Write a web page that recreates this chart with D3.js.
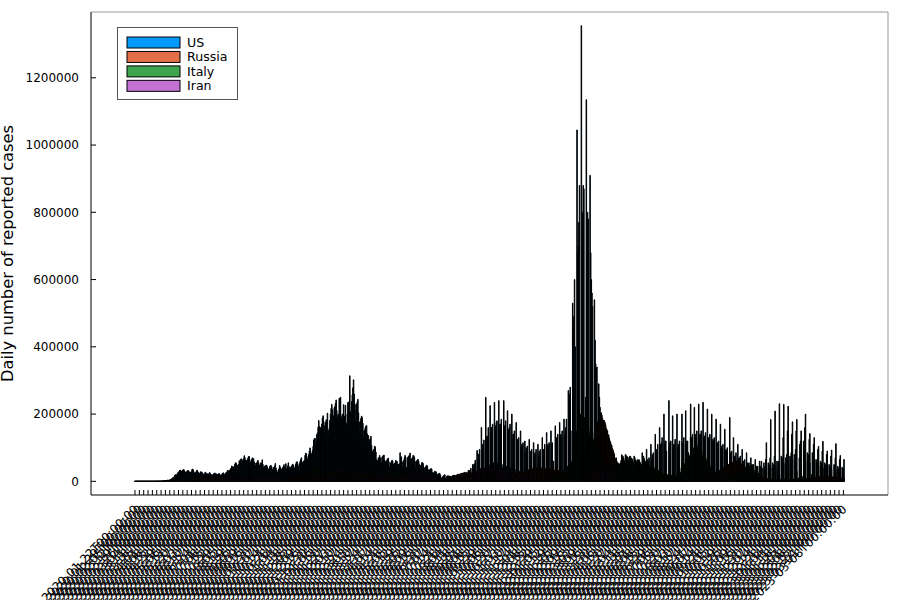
<!DOCTYPE html>
<html><head><meta charset="utf-8">
<script src="https://cdn.jsdelivr.net/npm/d3@7"></script>
<style>body{margin:0;background:#fff}svg{display:block}</style>
</head><body>
<svg id="chart" width="900" height="600"></svg>
<script>
const startDate = "2020-01-22";
const endDate = "2023-03-09";
const seriesNames = ["US", "Russia", "Italy", "Iran"];
const seriesColors = ["#009AFA", "#E36F47", "#3EA44E", "#C371D2"];
const yTickValues = [0, 200000, 400000, 600000, 800000, 1000000, 1200000];
const yLabel = "Daily number of reported cases";
const tickEvery = 7;

// daily new cases, in thousands, one row per week (Wed..Tue), from 2020-01-22
const usK = [
0,0,0,0,0,0,0, 0,0,0,0,0,0,0, 0,0,0,0,0,0,0, 0,0,0,0,0,0,0, 0,0,0,0,0,0,0,
0,0,0,0.02,0.01,0.03,0.03,
0.04,0.07,0.06,0.1,0.1,0.2,0.3,
0.4,0.5,0.6,0.7,0.8,1.3,1.8,
2.7,4.5,5.6,7,8.9,10.5,10.3,
13.4,17.2,19.3,19.8,19.1,20.9,25.2,
// W10
26.4,29.3,32.2,33.3,26.7,29.8,31.6,
32.9,35.2,33.8,30.1,27.4,25.6,28.1,
30.5,32.1,31.9,29.2,27.6,26.1,26.5,
29.1,35.7,36.6,33.4,27.1,23.4,24.2,
27.3,30.1,33.4,29.5,26.8,22.3,24.1,
25.2,28.4,28.1,26.3,20.4,19.1,22.4,
21.4,27.1,25.2,24.3,19.1,22.5,21.1,
22.3,26.2,24.4,21.5,20.1,18.3,19.2,
19.4,22.4,24.2,24.5,19.1,22.3,20.4,
20.1,21.4,22.6,23.1,17.5,18.5,18.9,
// W20
21.2,22.8,25.4,24.1,18.6,19.8,24.3,
26.1,27.7,32.4,32.1,28.3,29.5,33.6,
37.4,39.8,45.6,42.3,43.1,40.2,44.8,
51.3,55.4,54.2,45.6,48.3,43.5,50.1,
61.3,59.4,64.2,67.1,58.5,60.3,64.5,
67.4,76.3,71.2,62.6,63.4,58.9,62.4,
69.3,73.5,74.2,63.1,55.4,57.2,65.3,
69.8,67.5,67.3,57.4,48.2,46.4,54.5,
54.3,58.6,62.4,55.1,46.3,47.5,53.2,
55.4,51.3,64.1,50.5,41.2,35.4,44.3,
// W30
47.5,45.1,48.2,43.4,35.6,35.1,38.4,
44.1,46.2,47.5,43.6,35.3,35.2,41.4,
41.3,45.6,53.2,40.1,33.4,27.2,26.4,
34.2,37.5,47.3,42.1,34.5,35.2,38.6,
40.2,44.3,49.6,42.3,35.1,52.4,38.5,
39.4,45.6,55.2,44.1,35.3,40.2,41.5,
44.3,47.6,51.2,48.4,35.6,38.2,44.6,
51.4,57.2,58.5,53.1,45.3,42.4,52.3,
59.1,64.5,70.2,57.4,48.3,58.2,60.4,
62.5,77.3,83.6,82.1,60.4,66.5,74.3,
// W40
80.2,90.5,99.4,85.6,78.3,82.5,91.6,
104,123,127,128,104,120,139,
144,161,181,163,138,160,161,
170,188,195,178,143,166,175,
183,112,203,152,135,158,181,
200,217,229,213,176,195,219,
222,232,242,211,187,197,200,
247,238,250,192,186,200,199,
228,194,97,226,152,173,200,
234,236,157,314,207,185,237,
// W50
257,278,302,260,213,176,229,
230,236,244,204,176,143,179,
187,194,189,173,136,150,153,
160,164,166,141,112,136,113,
124,125,134,107,90,88,94,
95,105,102,87,64,55,62,
70,69,77,70,56,56,72,
75,77,78,63,50,59,59,
64,67,69,58,41,45,55,
59,63,60,51,36,54,54,
// W60
62,60,59,50,35,51,52,
85,69,73,59,40,57,62,
70,77,70,41,37,72,64,
75,78,84,65,46,68,70,
77,76,72,59,41,58,61,
64,65,59,50,31,47,48,
55,56,53,42,27,40,43,
46,48,45,35,22,33,35,
37,38,36,27,18,25,27,
30,29,28,20,14,22,22,
// W70
24,23,19,11,8,9,14,
17,16,20,8,6,15,13,
17,15,16,6,5,12,11,
13,12,14,5,4,12,11,
14,13,16,5,4,14,12,
18,16,15,6,5,6,27,
25,24,27,8,6,33,22,
32,32,39,11,9,50,36,
50,52,63,15,12,92,61,
81,76,95,25,17,160,85,
// W80
110,106,123,40,30,250,130,
135,130,160,50,38,225,140,
160,160,170,55,40,235,150,
165,175,180,55,45,240,165,
170,170,185,50,40,35,240,
165,165,180,45,35,210,145,
155,160,170,40,30,200,125,
140,140,150,35,25,175,115,
125,120,130,30,22,150,100,
110,105,115,25,20,120,85,
// W90
100,95,105,22,18,125,80,
90,85,95,20,16,115,75,
85,80,95,20,15,110,75,
90,85,95,20,15,130,80,
95,95,110,22,18,145,90,
110,105,115,25,20,150,110,
115,25,60,20,15,165,120,
130,125,140,30,25,175,135,
140,130,150,35,28,185,135,
155,160,185,45,35,270,190,
// W100
260,280,150,50,60,530,450,
490,600,400,100,150,1045,680,
700,770,880,200,150,1355,760,
800,880,870,190,130,250,1135,
750,800,780,150,110,910,680,
600,560,520,100,70,540,420,
350,330,340,60,50,290,250,
220,200,190,35,30,170,150,
130,120,110,25,20,45,130,
90,80,80,15,12,90,65,
// W110
60,55,55,10,8,70,45,
45,40,45,8,6,55,35,
35,35,40,6,5,50,30,
35,35,38,6,5,45,30,
35,32,38,6,5,55,30,
35,35,45,6,5,65,35,
45,40,50,8,6,85,40,
55,50,60,10,8,95,55,
65,60,70,12,10,110,65,
80,75,85,14,12,140,80,
// W120
95,90,110,15,12,160,100,
110,115,130,18,15,200,110,
120,120,90,20,15,20,240,
110,115,120,18,14,195,100,
110,110,125,16,14,200,100,
110,105,120,15,12,40,200,
115,110,130,15,12,210,110,
120,120,70,15,12,20,230,
130,125,140,18,14,220,120,
140,130,150,20,15,230,130,
// W130
140,140,150,20,15,235,130,
135,130,145,18,14,215,120,
130,125,140,16,13,200,115,
125,120,130,15,12,185,110,
115,110,120,14,11,170,100,
105,100,110,12,10,155,90,
95,90,100,10,8,15,190,
85,80,90,9,7,130,75,
75,70,85,8,6,110,65,
70,65,75,7,6,95,60,
// W140
60,55,65,6,5,85,50,
55,50,55,5,4,70,45,
50,45,50,4,4,65,40,
45,40,45,4,3,60,38,
45,60,40,4,3,55,35,
45,65,40,4,3,55,35,
48,70,40,4,3,55,38,
50,75,45,4,3,60,42,
60,10,20,3,3,75,55,
70,130,55,5,4,70,60,
// W150
80,150,60,5,4,75,65,
85,140,65,5,4,80,70,
95,150,30,4,3,10,70,
110,120,20,4,3,15,120,
90,160,60,5,4,85,75,
80,125,55,5,4,20,85,
70,110,50,4,3,65,55,
60,95,45,4,3,60,50,
55,90,40,3,3,55,45,
50,80,38,3,3,50,42,
// W160
45,75,35,3,3,15,50,
45,70,32,3,3,45,38,
40,65,30,3,3,42,35,
38,65
];

const russiaK = [
0,0,0,0,0,0,0, 0,0,0,0,0,0,0, 0,0,0,0,0,0,0, 0,0,0,0,0,0,0, 0,0,0,0,0,0,0,
0,0,0,0,0,0,0, 0,0,0,0,0,0,0,
0.01,0.02,0.02,0.01,0.03,0.03,0.02,
0.03,0.05,0.05,0.05,0.06,0.07,0.07,
0.16,0.18,0.2,0.23,0.27,0.3,0.5,
// W10
0.44,0.77,0.6,0.58,0.66,0.95,1.15,
1.17,1.46,1.79,1.67,2.19,2.56,2.77,
3.39,3.45,4.07,4.79,6.06,4.27,5.64,
5.24,4.77,5.85,5.97,6.36,6.2,6.41,
5.84,7.1,7.93,9.62,10.63,10.58,10.1,
10.56,11.23,10.7,10.82,11.01,11.66,10.9,
10.03,9.97,10.6,9.2,9.71,8.93,9.26,
8.76,8.86,8.89,9.43,8.6,8.95,8.34,
8.37,8.37,8.57,8.95,9.27,9.04,8.53,
8.53,8.83,8.73,8.86,8.98,8.6,8.4,
// W20
8.78,8.99,8.71,8.83,8.25,8.25,8,
7.79,7.97,7.89,7.6,7.73,7.42,7.1,
7.11,6.82,6.8,6.85,6.79,6.72,6.69,
6.56,6.76,6.74,6.63,6.61,6.61,6.56,
6.51,6.63,6.61,6.61,6.54,6.54,6.42,
6.41,6.39,6.23,6.17,5.94,5.94,5.84,
5.86,5.81,5.87,5.76,5.63,5.63,5.39,
5.48,5.5,5.48,5.46,5.43,5.4,5.16,
5.2,5.24,5.21,5.19,5.12,5.1,5.1,
5.06,5.06,5.06,4.92,4.89,4.84,4.83,
// W30
4.77,4.79,4.8,4.87,4.85,4.75,4.73,
4.76,4.71,4.73,4.71,4.73,4.68,4.73,
4.95,5.01,5.11,5.21,5.2,5.1,5.1,
5.36,5.4,5.45,5.51,5.49,5.51,5.53,
5.67,5.9,6.07,6.15,6.2,6.1,6.2,
6.43,6.6,7.21,7.52,7.87,8.13,8.23,
8.48,8.74,9.41,10.5,10.89,10.9,11.12,
11.1,11.49,12.13,12.85,13.63,13.87,13.87,
14.23,14.91,15.15,15.7,15.98,15.98,16.32,
16.52,17.34,17.72,17.4,16.71,15.98,16.55,
// W40
17.72,18.28,18.14,18.26,18.67,18.66,19.77,
19.76,20.58,20.98,21.8,20.77,20.98,21.6,
21.99,21.52,22.7,22.82,22.57,22.78,23.61,
24.58,24.32,24.82,24.58,24.58,25.17,26.42,
26.49,27.1,27.92,27.58,27.95,27.06,27.1,
27.17,28.59,28.96,28.64,28.09,27.92,26.1,
27.13,27,28.54,28.57,28.34,28.14,27.08,
26.92,28.14,28.55,27.57,28.12,28.34,28.6,
29.26,28.27,28.36,27.9,27.61,27.23,26.51,
27.71,26.76,25.8,24.25,24.2,23.06,23.47,
// W50
23.99,23.51,24.77,24.24,24.13,23.09,22.32,
22.31,22.07,21.91,21.91,21.37,21.34,20.14,
19.99,20.31,21.12,20.95,19.04,19.34,17.74,
17.99,17.59,19.26,19.01,18.09,17.4,16.78,
16.26,16.16,16.37,16.03,15.83,16.09,15.36,
15.58,15.09,15.3,14.26,14.12,14.57,13.74,
13.06,13.2,13.05,12.71,12.49,11.91,11.2,
11.44,11.2,11.4,11.52,11.43,11.02,10.77,
10.58,10.43,10.6,10.38,10.49,10.44,9.88,
9.97,9.44,9.44,9.44,9.63,9.27,9.2,
// W60
9.25,9.37,9.24,8.95,9.15,9.06,8.4,
8.65,8.65,8.85,8.63,8.7,8.34,8.16,
8.78,8.59,8.64,8.98,8.78,8.71,8.32,
8.33,8.75,8.7,8.73,8.8,8.67,8.17,
8.27,8.63,8.36,8.89,8.68,8.85,8.05,
8.37,8.99,9.27,9.21,8.7,8.42,8.05,
8.38,8.32,8.33,8.29,8.23,8.12,7.87,
8.06,8.42,8.42,8.79,8.74,8.33,7.9,
8.22,8.47,8.28,8.55,8.86,8.84,8.29,
8.45,8.63,8.68,8.95,9.06,8.95,8.37,
// W70
8.78,8.95,9.2,9.3,9.29,9.04,8.95,
9.15,9.3,9.26,9.15,9.35,9.3,10.4,
10.4,11.7,12.5,13.5,14.7,14.7,13.4,
14,17.3,17.9,17.6,17.9,17.4,16.7,
18.1,20.2,20.6,21,21.7,20.5,20.6,
23.5,23.2,24.4,24,25.1,24.4,23.3,
23.6,23.2,25.7,25.1,24.7,24.6,24.7,
25.3,25.3,25.3,25.2,24.9,24.5,23.8,
23.7,24.1,23.8,24.1,23.3,23.8,22.6,
22.6,23.2,23.4,22.4,22.9,22.2,22,
// W80
22,22.2,22.1,22.3,22,21.9,21.4,
21.6,21.9,21.9,22.2,21.6,21.6,21.1,
20.6,21.1,21,20.8,20.9,20.2,19.5,
19.5,19.7,19.4,19.5,19.2,18.8,18.3,
18.2,18.4,18.9,18.6,18.4,17.8,17.5,
17.8,18,18.3,18.4,18.6,17.9,18,
18.9,19.6,19.9,20.2,20.6,20.2,19.7,
20.9,21.4,22,22.4,22.2,21.9,21.8,
23.5,24.4,24.9,25,25.6,25.6,25.1,
26.6,27.4,28,28.6,28.6,29.2,28.4,
// W90
31.3,32.2,32.2,33.2,34,34.3,33.7,
34.1,36.3,37.1,37.7,37.9,38,36.6,
37.5,40.1,40,39.8,39.4,40,39.2,
40.4,40.2,41.3,39.4,39.2,38.8,38,
38,39,38.8,38.1,38,37.9,37,
37.1,37.4,37.2,36.9,36.8,36,35.7,
33.6,33.8,33.5,32.9,32.9,32.8,32.2,
33.2,32.9,32.3,31.7,31.4,31.3,30.4,
30,29.4,29,28.5,28.2,27.9,27.1,
28.3,27.7,27.4,26.4,26.4,25.9,24.8,
// W100
24.1,23.8,22.6,22.4,21.9,21.6,20.5,
21,20.8,20,19.6,18.6,17.5,16.5,
16.9,17.2,17.5,18.8,19.5,19.6,20.7,
23.8,25.1,27.9,30.5,32.5,36.5,38.7,
43.4,48.6,52,57.2,63.2,67.8,74.6,
88.1,87.1,92.7,107.1,113.1,122.7,124.1,
140.1,155.8,168.2,177.3,166.6,168.2,165.6,
178.8,197.1,203.9,197.1,187.9,180.5,180.5,
180.6,174.6,168.2,157.8,153.8,150,136.3,
138.5,128.3,120.3,116.2,108.9,106.2,97.3,
// W110
93,86.8,81.4,69.6,66.6,62.5,56.7,
53.9,51.1,49.8,46.4,44.8,43.2,41.5,
42.3,40.8,40.2,39.7,38.5,37.7,35.2,
34.8,33.1,31.7,31.3,30.6,29.5,26.6,
26.6,24.9,23.7,22.6,22.1,21.4,18.5,
18.4,17.6,16.4,16,15.6,14.9,12.5,
12.5,11.9,11.1,10.8,10.3,9.6,8.4,
8.5,8.5,8,7.8,7.8,7,6.1,
6.1,5.9,5.5,5.4,5.1,4.8,4.2,
4.3,4.1,4,3.8,3.6,3.5,3.2,
// W120
3.3,3.4,3.5,3.5,3.5,3.4,3.3,
3.4,3.4,3.5,3.4,3.2,3.1,3,
3.2,3.3,3.4,3.4,3.3,3.4,3.2,
3.2,3.3,3.3,3.3,3.2,3.1,3,
3.2,3.3,3.4,3.3,3.2,3.1,3,
3.3,3.4,3.5,3.5,3.4,3.3,3.2,
3.5,3.6,3.7,3.8,3.8,3.8,3.7,
3.9,4,4.1,4.3,4.3,4.3,4.1,
4.6,5,5.2,5.4,5.5,5.6,5.5,
6.5,7,7.3,7.8,8,8.1,8,
// W130
10,10.6,11.3,11.8,12.1,12.3,12.2,
14.3,15.4,16.4,16.6,17.4,17.2,17,
19.4,20.6,21.5,22,22.4,22.4,22.2,
24.5,25.5,26.3,27,27.3,27.6,27.3,
30,30.9,31.8,32.5,33.2,33.5,33.6,
37.1,38.5,39.5,40.6,41.5,42.2,42,
46.6,48.2,49.1,49.8,50.4,50.6,50.3,
54.2,55,55.5,55.9,56,55.8,55.2,
59,59.5,59.2,58.7,58.1,57.1,55.5,
57.2,56.4,55.1,53.5,52,50.4,48.6,
// W140
48.1,46.2,44.2,42.4,40.6,38.9,36.8,
36,34.1,32.3,30.6,28.8,27.5,25.8,
25.4,24,22.7,21.5,20.3,19.2,17.9,
17.6,16.7,15.8,15,14.2,13.6,12.6,
12.5,12,11.4,10.9,10.4,10.1,9.4,
9.4,9,8.7,8.4,8.1,7.9,7.4,
7.4,7.2,7,6.8,6.6,6.5,6.2,
6.3,6.2,6.2,6.1,6,5.9,5.7,
5.8,5.8,5.8,5.7,5.7,5.6,5.4,
5.6,5.6,5.6,5.6,5.6,5.5,5.4,
// W150
5.6,5.7,5.7,5.7,5.7,5.6,5.5,
5.8,5.9,5.9,5.9,6,6,5.9,
6.3,6.4,6.5,6.5,6.6,6.6,6.5,
7,7.1,7.1,6.7,6.6,6.8,7.2,
7.4,7.4,7.7,7.6,7.4,7.5,7.7,
8.5,8.8,9.2,9.4,9.5,9.6,9.9,
11,11.6,12.1,12.4,12.4,12.5,12.6,
13.2,13.6,14,14.2,14.4,14.6,14.8,
15.4,15.6,15.8,16,15.9,15.7,15.6,
15.4,15.2,14.9,14.7,14.4,14.2,13.9,
// W160
13.5,13.2,12.9,12.6,12.4,12.2,12,
11.5,11.3,11.1,10.9,10.8,10.6,10.4,
10.2,10.1,9.9,9.8,9.6,9.5,9.3,
9.2,9
];

const italyK = [
0,0,0,0,0,0,0, 0,0,0,0,0,0,0, 0,0,0,0,0,0,0, 0,0,0,0,0,0,0,
0,0,0.02,0.06,0.07,0.07,0.09,
0.08,0.08,0.24,0.24,0.57,0.34,0.47,
0.59,0.77,0.78,1.25,1.49,1.8,0.98,
2.3,2.65,2.55,3.5,3.6,3.2,3.5,
4.2,5.3,5.99,6.56,5.56,4.79,5.25,
5.21,6.2,5.91,5.97,5.22,4.05,4.05,
// W10
4.78,4.67,4.59,4.81,4.32,3.6,3.04,
3.84,4.2,3.95,4.69,4.09,3.15,2.97,
2.67,3.79,3.49,3.49,3.05,2.26,2.73,
3.37,2.65,3.02,2.36,2.32,1.74,1.74,
2.09,1.87,1.97,1.9,1.39,1.22,1.08,
1.44,1.4,1.33,1.08,0.8,0.74,1.4,
0.89,0.99,0.79,0.88,0.68,0.45,0.81,
0.67,0.64,0.65,0.67,0.53,0.3,0.4,
0.58,0.59,0.52,0.42,0.36,0.18,0.32,
0.32,0.52,0.52,0.27,0.2,0.28,0.28,
// W20
0.2,0.38,0.16,0.35,0.34,0.3,0.21,
0.33,0.25,0.25,0.26,0.22,0.22,0.19,
0.19,0.3,0.26,0.18,0.17,0.12,0.14,
0.19,0.2,0.22,0.24,0.19,0.21,0.19,
0.19,0.27,0.28,0.18,0.18,0.11,0.17,
0.16,0.23,0.23,0.25,0.22,0.13,0.19,
0.28,0.31,0.25,0.28,0.25,0.18,0.21,
0.29,0.39,0.38,0.3,0.24,0.16,0.19,
0.38,0.4,0.55,0.35,0.46,0.26,0.41,
0.48,0.52,0.57,0.63,0.48,0.4,0.63,
// W30
0.64,0.84,0.95,1.07,1.21,0.95,0.88,
1.37,1.41,1.46,1.44,1.36,1,1,
1.33,1.4,1.73,1.69,1.3,1.1,1.37,
1.43,1.6,1.6,1.5,1.45,1,1.23,
1.45,1.58,1.9,1.64,1.59,1.35,1.39,
1.64,1.79,1.91,1.87,1.77,1.47,1.65,
1.85,2.55,2.5,2.84,2.58,2.26,2.68,
3.68,4.46,5.37,5.72,5.46,4.62,5.9,
7.33,8.8,10.01,10.92,11.7,9.34,10.87,
15.2,16.1,19.1,19.64,21.27,17.01,21.99,
// W40
24.99,26.83,31.08,29.9,29.91,22.25,28.24,
30.55,34.5,37.8,39.81,32.61,25.27,35.1,
32.96,37.98,40.9,37.25,33.98,27.35,32.19,
34.28,36.18,37.24,34.77,28.34,22.93,23.23,
25.85,29,28.35,26.32,23.64,16.38,19.35,
20.71,24.1,24,21.05,18.89,13.72,14.84,
12.76,16.99,18.73,19.9,17.94,12.03,14.84,
17.57,18.24,17.99,19.9,15.1,10.87,13.32,
14.52,18.04,19.04,10.41,11.21,8.58,11.21,
16.2,23.48,22.21,11.83,14.25,10.8,15.38,
// W50
20.33,18.02,17.53,19.98,18.63,12.53,14.24,
15.77,17.25,16.15,16.3,12.55,8.82,10.5,
13.57,14.08,13.63,13.33,11.63,8.56,10.59,
15.2,14.37,13.57,12.71,11.25,9.66,10.63,
13.19,13.66,14.22,12.71,11.64,7.97,10.38,
12.96,15.15,13.91,13.53,11.07,7.35,10.39,
12.07,13.76,15.48,15.47,13.45,9.63,13.31,
16.42,20.5,18.92,19.89,17.46,13.11,17.08,
20.88,22.86,24.04,23.64,20.77,13.9,19.75,
22.41,25.67,26.82,26.06,21.27,15.27,20.4,
// W60
23.06,24.94,25.74,23.84,20.16,15.27,18.77,
21.27,22.01,23.84,21.93,19.61,12.92,16.05,
23.65,21.26,21.26,18.03,10.68,7.77,13.71,
13.71,17.22,18.94,17.57,15.94,9.79,13.44,
16.17,16.97,16.23,15.37,12.7,8.86,12.07,
13.85,14.32,13.81,13.15,10.4,9.15,10.4,
12.97,12.61,10.58,9.14,8.89,5.95,9.12,
10,11.8,10.55,9.18,8.29,5.08,6.95,
7.85,8.08,7.57,6.66,5.76,3.45,4.45,
5.5,5.2,5.22,4.72,4.16,2.49,3.22,
// W70
3.94,3.74,3.35,2.95,2.49,1.82,1.97,
1.9,2.56,2.44,2.2,1.93,1.27,1.9,
2.2,1.9,1.73,1.39,1.36,0.78,0.88,
1.4,1.2,1.2,1.2,0.88,0.5,0.83,
0.95,0.93,0.95,0.79,0.75,0.39,0.68,
0.88,0.79,0.93,0.81,0.81,0.48,0.91,
1.39,1.39,1.56,1.4,1.2,0.89,1.55,
2.15,2.45,2.9,3.13,2.45,1.55,2.52,
4.26,5.06,5.14,5.14,4.74,3.12,4.19,
6.17,5.7,6.5,6.6,5.3,4.2,4.8,
// W80
6.6,7.23,7.41,6.82,5.67,3.54,5.7,
6.97,7.41,6.3,5.4,4.5,3.2,4.7,
7.16,7.26,7.19,6.8,5.9,4.2,5.2,
7.5,7.8,7,6.4,5.6,4.3,5.5,
6.8,6.7,6.9,5.9,5,3.4,4.7,
5.6,5.2,5.1,4.7,4.4,2.8,3.4,
4.4,5.1,4.6,4,3.8,2.4,3.4,
3.9,3.8,3.8,3.6,3.2,1.8,2.6,
3.2,3.8,3.4,3,2.8,1.8,2.4,
3.2,3,2.9,2.7,2.5,1.6,2.3,
// W90
2.7,2.7,2.7,2.5,2.4,1.6,2.5,
3.7,3.8,3.9,3.5,3,2,2.8,
4.6,4.9,5,4.6,4.2,2.7,3.6,
5.9,6,6.1,5.8,5.2,4,5,
7.9,8.6,8.5,8,7.6,5.1,7,
10.6,10.6,11.5,11,9.7,6.4,9,
13.7,13.8,13.7,12.9,12.9,8.2,12,
16.8,17,16.6,17,15,9.5,12.7,
12.5,16.1,20.4,21,19.2,13.4,20.7,
23.1,26.1,28.6,27.9,24.3,16.2,30.8,
// W100
36.3,44.6,50.6,54.8,24.9,30.8,78.3,
98,126.9,144.2,141.3,61,68.1,170.8,
189.1,219.4,108.3,197.6,155.7,101.8,220.5,
196.2,184.6,186.3,180.4,149.5,83.4,228.2,
192.3,179.1,171.3,138.9,130,77.7,186.7,
167.2,155.7,143.9,124.6,110.4,57.7,101.8,
118.9,112.7,99.5,85.6,77,41.2,101.9,
75.9,68,59.4,53.2,49.2,30.6,58,
60.3,57,53.1,47.6,40.4,24.4,46.6,
48.2,46.2,41.2,38.4,34.1,20,36.4,
// W110
43.5,46.2,50,45,40,25,60.5,
55,53,54,51,48,30,62,
79,76,74,70,62,40,80,
77,75,73,71,63,41,75,
74,68,69,65,59,38,75,
71,64,62,58,54,32,62,
64,59,55,51,48,18,40,
75,68,61,58,30,24,60,
58,52,46,44,40,25,48,
54,48,42,40,34,21,43,
// W120
42,38,35,31,27,15,34,
30,28,26,23,20,12,24,
23,22,21,17,15,9,17,
16,16,15,14,13,5,10,
20,26,21,17,16,9,24,
30,31,29,27,24,14,55,
62,54,55,51,45,24,62,
83,86,86,80,75,50,132,
107,109,102,99,86,43,115,
124,110,108,100,87,44,99,
// W130
106,98,92,86,76,36,78,
80,74,70,64,57,25,55,
58,53,46,42,36,16,40,
40,36,31,28,24,8,24,
29,25,21,19,17,8,21,
24,21,19,17,15,7,18,
19,17,15,14,13,6,16,
17,16,15,14,13,6,20,
22,21,20,19,17,8,27,
29,28,27,25,23,11,36,
// W140
38,37,36,34,30,14,46,
48,46,44,40,35,17,48,
43,39,35,32,28,14,35,
33,29,26,24,21,11,27,
27,24,0,0,0,0,0,
0,0,115,0,0,0,0,
0,0,184,0,0,0,0,
0,0,209,0,0,0,0,
0,0,231,0,0,0,0,
0,0,229,0,0,0,0,
// W150
0,0,223,0,0,0,0,
0,0,177,0,0,0,0,
0,0,184,0,0,0,0,
0,0,150,0,0,0,0,
0,0,200,0,0,0,0,
0,0,142,0,0,0,0,
0,0,130,0,0,0,0,
0,0,104,0,0,0,0,
0,0,119,0,0,0,0,
0,0,90,0,0,0,0,
// W160
0,0,93,0,0,0,0,
0,0,112,0,0,0,0,
0,0,77,0,0,0,0,
0,0
];

const iranK = [
0,0,0,0,0,0,0, 0,0,0,0,0,0,0, 0,0,0,0,0,0,0, 0,0,0,0,0,0,0,
0.002,0.003,0.013,0.01,0.015,0.018,0.034,
0.044,0.106,0.143,0.205,0.385,0.523,0.835,
0.586,0.591,1.234,1.076,0.743,0.595,0.881,
0.958,1.075,1.289,1.365,1.209,1.053,1.178,
1.192,1.046,1.237,0.966,1.028,1.411,1.762,
2.206,2.389,2.926,3.076,2.901,3.186,3.11,
// W10
2.987,2.875,2.715,2.56,2.483,2.274,2.089,
1.997,1.634,1.972,1.837,1.657,1.617,1.574,
1.512,1.606,1.499,1.374,1.343,1.294,1.297,
1.194,1.03,1.168,1.134,1.153,0.991,1.112,
1.073,0.993,0.983,0.802,0.976,1.223,1.323,
1.68,1.529,1.556,1.529,1.383,1.481,1.683,
2.102,1.808,2.294,1.757,1.806,2.346,2.392,
2.111,2.311,2.102,2.112,1.869,1.787,2.08,
1.737,2.293,2.819,2.991,3.117,3.134,3.07,
3.574,3.406,2.886,2.596,2.364,2.095,2.011,
// W20
2.18,2.238,2.41,2.472,2.41,2.449,2.612,
2.563,2.595,2.615,2.322,2.368,2.445,2.531,
2.595,2.389,2.628,2.489,2.536,2.457,2.45,
2.549,2.652,2.56,2.388,2.566,2.637,2.262,
2.349,2.397,2.388,2.166,2.186,2.379,2.521,
2.625,2.5,2.379,2.166,2.41,2.414,2.316,
2.621,2.586,2.434,2.333,2.316,2.42,2.549,
2.636,2.489,2.685,2.382,2.485,2.598,2.697,
2.634,2.45,2.125,2.02,2.133,2.262,2.451,
2.502,2.394,2.3,2.385,1.851,1.916,2.206,
// W30
2.385,2.336,2.45,2.061,2.026,1.948,2.172,
2.098,2.089,2.092,2.059,1.989,2.151,2.059,
2.063,2.006,2.173,1.969,2.082,2.308,2.205,
2.323,2.395,2.395,2.233,2.223,2.317,2.564,
2.521,2.706,2.919,2.969,3.097,3.204,3.712,
3.521,3.563,3.582,3.362,3.204,3.521,3.574,
3.653,3.825,3.582,3.545,3.362,3.712,3.902,
4.019,4.142,4.392,4.151,3.822,3.875,4.206,
4.83,4.542,4.103,4,4.251,4.721,5.039,
5.616,5.96,6.134,5.814,5.96,6.191,6.968,
// W40
7.82,8.293,6.824,7.719,6.856,6.968,8.364,
9.236,8.689,9.01,9.45,10.463,10.343,11.737,
12.931,12.543,11.094,12.166,13.053,13.421,13.352,
13.223,13.843,13.26,12.788,13.402,13.639,13.843,
13.321,13.922,13.468,13.053,12.143,13.402,13.056,
12.151,11.739,10.959,10.403,10.365,10.279,10.303,
10.031,9.251,8.201,7.702,8.003,8.017,7.975,
7.704,7.396,6.784,6.269,6.229,6.28,6.244,
6.228,6.094,5.81,5.3,5.502,6.085,6.31,
6.28,5.966,6.075,5.96,5.96,6.28,6.28,
// W50
6.098,6.061,6.045,5.96,6.106,6.04,6.27,
6.315,6.248,6.175,5.956,6.069,6.019,6.187,
6.368,6.317,6.159,5.93,5.984,6.385,6.486,
6.564,6.608,6.553,6.379,6.296,6.467,6.664,
6.855,7.063,6.779,6.527,6.572,6.847,7.238,
7.446,7.5,7.356,7.165,7.251,7.617,8,
8.1,8.061,7.908,7.598,7.558,7.906,8.232,
8.406,8.328,8.213,7.9,8.021,8.291,8.405,
8.51,8.424,8.153,7.702,7.866,8.061,8.314,
8.341,8.133,7.995,7.662,7.595,7.98,8.237,
// W60
8.315,8.218,7.996,7.431,7.142,7.004,7.051,
7.14,7.353,7.47,7.53,7.7,8.5,10.3,
11.2,12.6,13.9,13.7,13.9,17.4,19.7,
20.9,22.6,21.1,19.6,21.1,22.6,24.7,
25.5,24.8,21.1,20.1,21.1,23.1,24.9,
21.5,23.3,20.9,19,18.4,18.5,19.6,
19.4,18.6,15.8,14.8,14.2,14.5,15.8,
14.5,13.5,12.9,12.1,10.6,11.4,12.1,
10.6,9.7,9.2,8,9.3,9.9,10.1,
9.8,9.8,8.9,8,8.4,9.1,9.7,
// W70
10.2,8.8,9.8,9.2,9.1,9.5,10.2,
10.3,9.8,9.3,8.9,8.8,9.4,9.9,
10,9.7,9.1,8.4,9.2,9.9,10.4,
11,10.8,10.1,9.7,10.4,11.3,11.9,
12.1,11.5,11.1,10.6,11.4,12.4,13.4,
14.4,14.1,13.6,13,15.1,17.1,18.9,
20,19.9,18.1,17.7,19.4,22.4,24.5,
25.1,24.1,23.4,22.2,23.4,27.1,27.4,
29.7,29.8,28.4,27.3,27.4,31.8,34.9,
34.4,39.4,38.1,37.9,35.3,36,39.6,
// W80
39.6,40.8,34.9,37,37.2,38.7,42.5,
42.3,41.4,40.4,39.3,38.2,44,50.2,
40.8,36.4,35.7,33.6,37.9,37.2,38.2,
37.6,35.4,33.9,29.7,31.5,33.5,35.1,
32.5,30.3,26.4,25.4,24.4,27.8,26.8,
24,23.6,20.4,18.7,18.9,20.2,19.3,
17.7,17.4,16,14.5,14.3,15.7,14.6,
14,13.4,12.5,11.6,12.6,12.9,12.4,
12.3,11.6,11,10,11.2,11.6,11.2,
11.1,10.4,9.8,9,10.1,10.6,10.7,
// W90
10.1,9.3,8.9,8.3,9.3,9.8,9.7,
9.1,8.4,7.7,7.2,7.9,8.5,8.2,
7.8,7.1,6.4,5.9,6.5,6.6,6.6,
6,5.5,5,4.6,5,5.4,5.3,
5.2,4.9,4.6,4.3,4.6,5,5.1,
4.8,4.4,4,3.7,4.1,4.3,4.5,
4.2,3.9,3.5,3.2,3.6,3.8,3.9,
3.6,3.2,3,2.7,3,3.3,3.4,
3.1,2.7,2.4,2.3,2.6,2.8,2.9,
2.6,2.3,2,1.9,2.1,2.3,2.4,
// W100
2.2,1.9,1.7,1.6,1.8,2,2.1,
1.9,1.8,1.6,1.5,1.6,1.8,2,
2.2,2.3,2,2.1,2.6,3,3.6,
4,4.3,4.1,4.4,5.5,6.9,8,
8.9,9.9,10.4,11.3,13.6,16.4,19.7,
21.9,24.3,23.6,23.6,27.5,30.9,34.8,
34.5,35.6,32.6,31.8,35.8,38.3,39.9,
36.8,35.4,30.5,29,32.5,33,32.2,
28,24.8,21,19.5,21.8,22.5,21.5,
18.4,16.2,13.5,12.1,14.1,15.2,14,
// W110
12,10.6,8.7,7.9,9.1,9.8,9.2,
7.8,7,6,5.2,6,6.5,6.1,
5.5,4.9,4.3,3.6,3.2,3,2.7,
2.5,2.3,2,1.8,2,2.2,2.1,
2,1.8,1.5,1.4,1.6,1.7,1.6,
1.5,1.4,1.2,1.1,1.3,1.4,1.3,
1.2,1.1,0.9,0.8,0.9,1,1,
0.9,0.8,0.7,0.6,0.7,0.8,0.8,
0.7,0.6,0.5,0.5,0.5,0.6,0.5,
0.5,0.4,0.4,0.3,0.4,0.4,0.4,
// W120
0.4,0.3,0.3,0.3,0.3,0.3,0.3,
0.3,0.3,0.2,0.2,0.3,0.3,0.2,
0.2,0.2,0.2,0.1,0.2,0.2,0.2,
0.2,0.2,0.2,0.1,0.2,0.3,0.3,
0.3,0.3,0.3,0.2,0.3,0.4,0.4,
0.5,0.5,0.4,0.4,0.5,0.6,0.7,
0.8,0.8,0.7,0.6,0.8,1,1.1,
1.3,1.3,1.1,1,1.3,1.6,1.9,
2.2,2.3,2,1.8,2.3,2.8,3.3,
3.7,3.9,3.5,3.2,3.9,4.7,5.3,
// W130
5.6,5.7,5.1,4.6,5.6,6.6,7.2,
7.3,7.3,6.5,5.9,6.9,8,8.5,
8.4,8.2,7.3,6.6,7.6,8.8,9.3,
8.7,8.4,7.5,6.7,7.5,8.5,8.5,
7.9,7.4,6.5,5.8,6.4,7,6.9,
6.3,5.8,5,4.4,4.8,5.2,5,
4.5,4.1,3.5,3,3.3,3.6,3.4,
3,2.7,2.3,2,2.1,2.3,2.2,
1.9,1.7,1.4,1.2,1.3,1.4,1.3,
1.1,1,0.8,0.7,0.8,0.9,0.8,
// W140
0.7,0.6,0.5,0.5,0.5,0.5,0.5,
0.5,0.4,0.4,0.3,0.4,0.4,0.4,
0.4,0.3,0.3,0.3,0.3,0.3,0.3,
0.3,0.3,0.2,0.2,0.3,0.3,0.3,
0.3,0.2,0.2,0.2,0.2,0.3,0.2,
0.2,0.2,0.2,0.1,0.2,0.2,0.2,
0.2,0.2,0.1,0.1,0.2,0.2,0.2,
0.2,0.2,0.1,0.1,0.1,0.2,0.2,
0.2,0.1,0.1,0.1,0.1,0.2,0.1,
0.1,0.1,0.1,0.1,0.1,0.1,0.1,
// W150
0.1,0.1,0.1,0.1,0.1,0.1,0.1,
0.1,0.1,0.1,0.1,0.1,0.1,0.1,
0.1,0.1,0.1,0.1,0.1,0.1,0.1,
0.1,0.1,0.1,0.1,0.1,0.1,0.1,
0.1,0.1,0.1,0.1,0.1,0.1,0.1,
0.1,0.1,0.1,0.1,0.1,0.1,0.1,
0.1,0.1,0.1,0.1,0.1,0.1,0.1,
0.1,0.1,0.1,0.1,0.1,0.1,0.1,
0.1,0.1,0.1,0.1,0.1,0.1,0.1,
0.1,0.1,0.1,0.1,0.1,0.1,0.1,
// W160
0.1,0.1,0.1,0.1,0.1,0.1,0.1,
0.1,0.1,0.1,0.1,0.1,0.1,0.1,
0.1,0.1,0.1,0.1,0.1,0.1,0.1,
0.1,0.1
];

// ---------- drawing ----------
const seriesK = [usK, russiaK, italyK, iranK];
const dates = d3.utcDay.range(new Date(startDate + "T00:00:00Z"), d3.utcDay.offset(new Date(endDate + "T00:00:00Z"), 1));
const N = dates.length;
const fmtTick = d3.utcFormat("%Y-%m-%dT%H:%M:%S");

const plot = {left: 91, right: 888, top: 12, bottom: 495};
const svg = d3.select("#chart");
const font = "'DejaVu Sans', 'Liberation Sans', sans-serif";

const allMax = d3.max(seriesK, s => d3.max(s)) * 1000;
const span = allMax - 0;
const y = d3.scaleLinear().domain([0 - 0.03 * span, allMax + 0.03 * span]).range([plot.bottom, plot.top]);
const pad = 0.062 * N;
const x = d3.scaleLinear().domain([-pad, N - 1 + pad]).range([plot.left, plot.right]);
const step = x(1) - x(0);
const bw = 0.8 * step;

// bars: series drawn in order, each with black outline
seriesK.forEach((vals, s) => {
  const g = svg.append("g");
  g.selectAll("path")
    .data(vals.slice(0, N).map((v, i) => ({i, v: v * 1000})))
    .join("path")
    .attr("d", d => {
      const x0 = x(d.i) - bw / 2, x1 = x0 + bw, y0 = y(0), y1 = y(d.v);
      return `M${x0},${y0}V${y1}H${x1}V${y0}Z`;
    })
    .attr("fill", seriesColors[s])
    .attr("stroke", "#000")
    .attr("stroke-width", 1);
});

// frame
svg.append("line").attr("x1", plot.left).attr("x2", plot.right).attr("y1", plot.top).attr("y2", plot.top)
  .attr("stroke", "#9a9a9a").attr("stroke-width", 1);
svg.append("line").attr("x1", plot.right).attr("x2", plot.right).attr("y1", plot.top).attr("y2", plot.bottom)
  .attr("stroke", "#9a9a9a").attr("stroke-width", 1);
svg.append("line").attr("x1", plot.left).attr("x2", plot.right).attr("y1", plot.bottom).attr("y2", plot.bottom)
  .attr("stroke", "#000").attr("stroke-width", 1);
svg.append("line").attr("x1", plot.left).attr("x2", plot.left).attr("y1", plot.top).attr("y2", plot.bottom)
  .attr("stroke", "#000").attr("stroke-width", 1);

// y ticks
const yt = svg.append("g");
yTickValues.forEach(v => {
  yt.append("line").attr("x1", plot.left).attr("x2", plot.left + 5).attr("y1", y(v)).attr("y2", y(v))
    .attr("stroke", "#000").attr("stroke-width", 1);
  yt.append("text").attr("x", plot.left - 12).attr("y", y(v)).attr("dy", "0.36em")
    .attr("text-anchor", "end").attr("font-family", font).attr("font-size", 12).attr("fill", "#000")
    .text(d3.format("d")(v));
});

// x ticks every week
const xt = svg.append("g");
const tickIdx = d3.range(0, N, tickEvery);
tickIdx.forEach(i => {
  xt.append("line").attr("x1", x(i)).attr("x2", x(i)).attr("y1", plot.bottom).attr("y2", plot.bottom - 5)
    .attr("stroke", "#000").attr("stroke-width", 1);
  xt.append("text")
    .attr("transform", `translate(${x(i) - 2},${plot.bottom + 9}) rotate(-45)`)
    .attr("dy", "0.71em")
    .attr("text-anchor", "end").attr("font-family", font).attr("font-size", 12).attr("fill", "#000")
    .text(fmtTick(dates[i]));
});

// y label
svg.append("text")
  .attr("transform", `translate(13,${(plot.top + plot.bottom) / 2}) rotate(-90)`)
  .attr("text-anchor", "middle").attr("font-family", font).attr("font-size", 16.3).attr("fill", "#000")
  .text(yLabel);

// legend
const lg = svg.append("g");
lg.append("rect").attr("x", 117.5).attr("y", 27.5).attr("width", 120).attr("height", 72)
  .attr("fill", "#fff").attr("stroke", "#555").attr("stroke-width", 1);
seriesNames.forEach((name, k) => {
  const cy = 42.5 + k * 14.45;
  lg.append("rect").attr("x", 127).attr("y", cy - 5.5).attr("width", 53).attr("height", 11)
    .attr("fill", seriesColors[k]).attr("stroke", "#000").attr("stroke-width", 1);
  lg.append("text").attr("x", 187).attr("y", cy).attr("dy", "0.36em")
    .attr("font-family", font).attr("font-size", 12.6).attr("fill", "#000").text(name);
});
</script>
</body></html>
